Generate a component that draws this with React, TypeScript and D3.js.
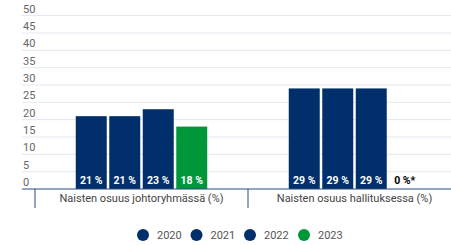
import React from "react";
import * as d3 from "d3";

const categories = ["Naisten osuus johtoryhmässä (%)", "Naisten osuus hallituksessa (%)"];
const years = ["2020", "2021", "2022", "2023"];
const values: number[][] = [
  [21, 21, 23, 18],
  [29, 29, 29, 0],
];
const dataLabels: string[][] = [
  ["21 %", "21 %", "23 %", "18 %"],
  ["29 %", "29 %", "29 %", "0 %*"],
];
const yTicks = [0, 5, 10, 15, 20, 25, 30, 35, 40, 45, 50];
const colors = ["#002f6c", "#002f6c", "#002f6c", "#00973a"];

const W = 451;
const H = 245;

export default function App() {
  const y = d3.scaleLinear().domain([0, 50]).range([189, 15.6]);
  const x0 = d3.scaleBand<string>().domain(categories).range([35, 461]).padding(0);
  const groupW = 134;
  const x1 = d3.scaleBand<string>().domain(years).range([0, groupW]).paddingInner(0.075).paddingOuter(0.0375);
  const font = "Roboto, 'Noto Sans', sans-serif";

  const legendX = [143, 196.5, 250, 304];

  return (
    <svg width={W} height={H} style={{ position: "absolute", left: 0, top: 0, fontFamily: font }}>
      <rect width={W} height={H} fill="#fff" />
      {yTicks.map((t) => (
        <g key={t}>
          {t > 0 && <line x1={22} x2={W} y1={y(t)} y2={y(t)} stroke="#e3e8f0" strokeWidth={1} />}
          <text x={23} y={y(t) - 3} fontSize={11} fill="#666" >{t}</text>
        </g>
      ))}
      {categories.map((c, ci) => {
        const gx = (x0(c) as number) + (x0.bandwidth() - groupW) / 2;
        return (
          <g key={c}>
            {years.map((yr, si) => {
              const v = values[ci][si];
              const bx = gx + (x1(yr) as number);
              const bw = x1.bandwidth();
              return (
                <g key={yr}>
                  {v > 0 && <rect x={bx} y={y(v)} width={bw} height={y(0) - y(v)} fill={colors[si]} />}
                  <text x={bx + bw / 2} y={184} textAnchor="middle" fontSize={10.5} fontWeight="bold" fill={v > 0 ? "#fff" : "#000"}>
                    {dataLabels[ci][si]}
                  </text>
                </g>
              );
            })}
            <text x={(x0(c) as number) + x0.bandwidth() / 2} y={202} textAnchor="middle" fontSize={11} fill="#444">
              {c}
            </text>
          </g>
        );
      })}
      <line x1={22} x2={W} y1={189} y2={189} stroke="#2b4b7e" strokeWidth={1.2} />
      {categories.map((c) => (
        <line key={c} x1={(x0(c) as number)} x2={(x0(c) as number)} y1={189} y2={208} stroke="#2b4b7e" strokeWidth={1} />
      ))}
      {years.map((yr, i) => (
        <g key={yr}>
          <circle cx={legendX[i]} cy={235} r={6} fill={colors[i]} />
          <text x={legendX[i] + 14} y={239} fontSize={11} fill="#555">{yr}</text>
        </g>
      ))}
    </svg>
  );
}
